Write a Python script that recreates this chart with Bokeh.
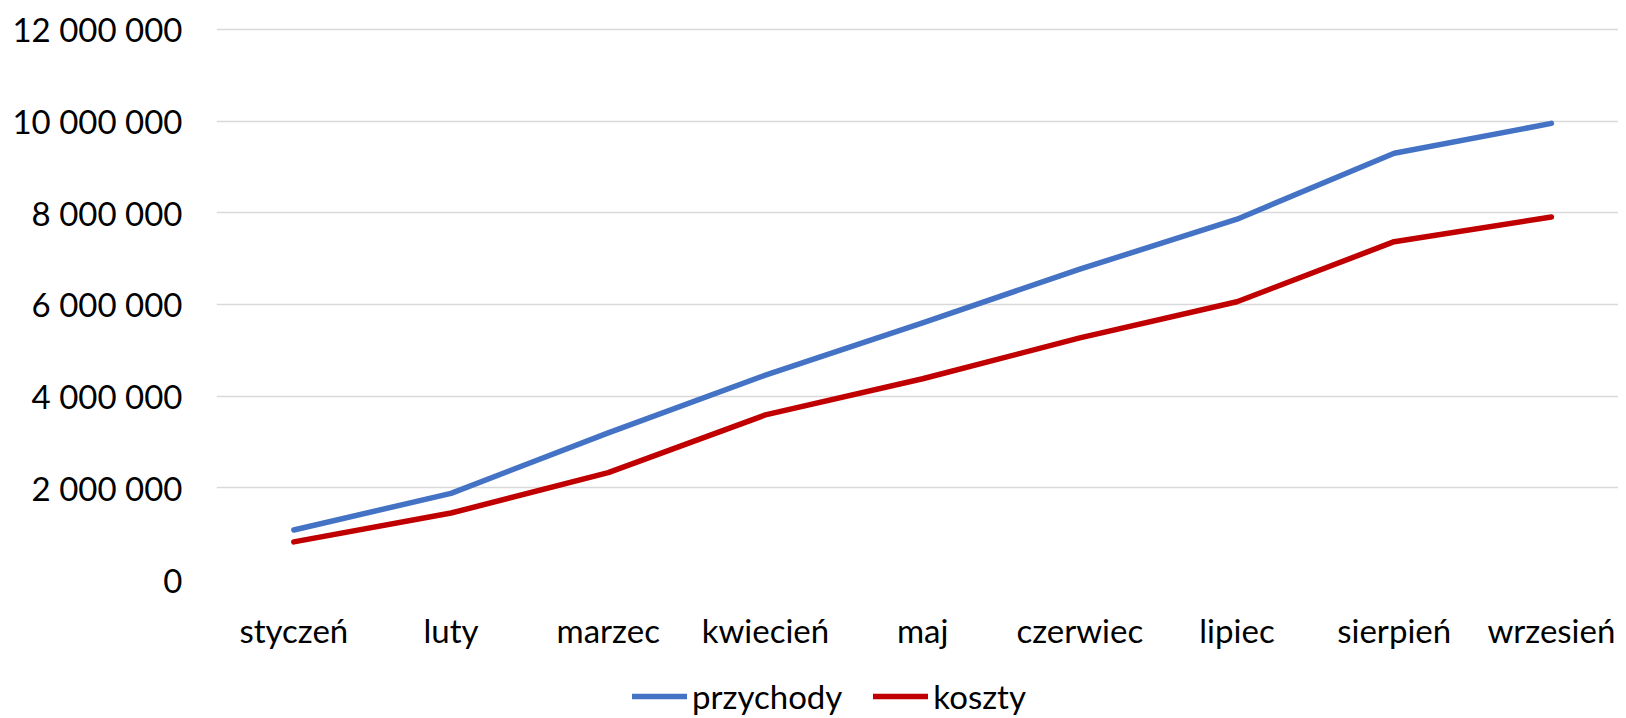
from bokeh.plotting import figure
from bokeh.layouts import column
from bokeh.models import Range1d, FixedTicker, Legend, LegendItem
from bokeh.embed import file_html
from bokeh.resources import INLINE

months = ["styczeń", "luty", "marzec", "kwiecień", "maj", "czerwiec", "lipiec", "sierpień", "wrzesień"]
przychody = [1080000, 1880000, 3200000, 4460000, 5600000, 6770000, 7860000, 9300000, 9950000]
koszty = [820000, 1450000, 2330000, 3590000, 4380000, 5270000, 6060000, 7370000, 7910000]
y_ticks = [0, 2000000, 4000000, 6000000, 8000000, 10000000, 12000000]
y_labels = ["0", "2 000 000", "4 000 000", "6 000 000", "8 000 000", "10 000 000", "12 000 000"]
series_names = ["przychody", "koszty"]
series_colors = ["#4472C4", "#C00000"]
series_values = [przychody, koszty]

FONT = "Lato"
FS = "33px"
LW = 5.5

x_idx = list(range(len(months)))

p = figure(width=1618, height=652, output_backend="svg", toolbar_location=None,
           x_range=Range1d(-0.492, 8.427), y_range=Range1d(0, 12195000),
           min_border_left=216, min_border_right=0, min_border_top=20, min_border_bottom=70)
p.outline_line_color = None
p.background_fill_color = "white"
p.border_fill_color = "white"

for vals, col in zip(series_values, series_colors):
    p.line(x_idx, vals, line_color=col, line_width=LW, line_cap="round", line_join="round")

p.xgrid.visible = False
p.ygrid.grid_line_color = "#D9D9D9"
p.ygrid.grid_line_width = 1.5

for ax in (p.xaxis, p.yaxis):
    ax.axis_line_color = None
    ax.major_tick_line_color = None
    ax.minor_tick_line_color = None
    ax.major_tick_out = 0
    ax.major_tick_in = 0
    ax.minor_tick_out = 0
    ax.minor_tick_in = 0
    ax.major_label_text_font = FONT
    ax.major_label_text_font_size = FS
    ax.major_label_text_color = "black"

p.yaxis.ticker = FixedTicker(ticks=y_ticks)
p.yaxis.major_label_overrides = {t: l for t, l in zip(y_ticks, y_labels)}
p.yaxis.major_label_standoff = 34

p.xaxis.ticker = FixedTicker(ticks=x_idx)
p.xaxis.major_label_overrides = {i: m for i, m in zip(x_idx, months)}
p.xaxis.major_label_standoff = 30

# legend strip below the chart (its proxy lines fall outside its range, so only the legend shows)
p2 = figure(width=1618, height=64, output_backend="svg", toolbar_location=None,
            x_range=Range1d(0, 1), y_range=Range1d(-3, -2),
            x_axis_type=None, y_axis_type=None,
            min_border_left=0, min_border_right=0, min_border_top=0, min_border_bottom=0)
p2.outline_line_color = None
p2.grid.visible = False
p2.background_fill_color = "white"
p2.border_fill_color = "white"
items = []
for name, vals, col in zip(series_names, series_values, series_colors):
    rr = p2.line(x_idx, vals, line_color=col, line_width=LW, line_cap="round")
    items.append(LegendItem(label=name, renderers=[rr]))
legend = Legend(items=items, orientation="horizontal", location=(416, 0),
                label_text_font=FONT, label_text_font_size=FS, label_text_color="black",
                glyph_width=55, label_standoff=5, spacing=31, padding=0, margin=0,
                border_line_color=None, background_fill_alpha=0)
p2.add_layout(legend, "center")

open("out.html", "w").write(file_html(column(p, p2, spacing=0), INLINE))
